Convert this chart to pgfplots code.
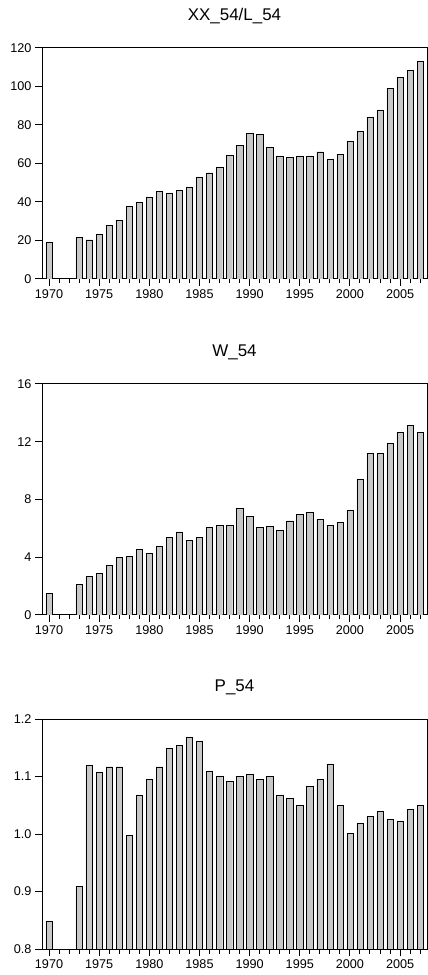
\documentclass[border=0pt]{standalone}
\usepackage{pgfplots}
\pgfplotsset{compat=1.18}
\usepackage{fontspec}
\setmainfont{Liberation Sans}
\definecolor{barfill}{RGB}{200,200,200}
\pgfplotsset{
  /pgf/number format/assume math mode=true,
  panel/.style={
    scale only axis, width=385bp, height=231bp,
    anchor=south west,
    xmin=1969.3, xmax=2007.68,
    ybar, bar width=6.3bp,
    xtick={1970,1975,...,2005},
    minor xtick={1970,...,2007},
    tick align=outside, tick pos=left,
    major tick length=7bp, minor tick length=4.5bp,
    every tick/.style={black, line width=1bp},
    every minor tick/.style={black, line width=1bp},
    axis line style={line width=1bp},
    ticklabel style={font=\fontsize{12.7}{14}\selectfont},
    x tick label style={/pgf/number format/.cd, 1000 sep={}},
    title style={font=\fontsize{17}{19}\selectfont, at={(0.5,1)}, anchor=base, yshift=22bp},
    cycle list={{fill=barfill, draw=black, line width=1bp}},
  }
}
\begin{document}
\begin{tikzpicture}
\useasboundingbox (0,0) rectangle (428bp,975bp);
\begin{axis}[panel, at={(42bp,696bp)}, ymin=0, ymax=120, ytick={0,20,...,120}, title={XX\_54/L\_54}]
\addplot coordinates {
(1970,19.0) (1973,21.8) (1974,20.4) (1975,23.4) (1976,27.7) (1977,30.6) (1978,37.6) (1979,39.7)
(1980,42.6) (1981,45.4) (1982,44.8) (1983,46.2) (1984,47.8) (1985,53.0) (1986,55.2) (1987,58.2)
(1988,64.1) (1989,69.3) (1990,75.7) (1991,75.2) (1992,68.4) (1993,63.9) (1994,63.2) (1995,63.9)
(1996,63.9) (1997,66.1) (1998,62.0) (1999,64.8) (2000,71.5) (2001,76.7) (2002,84.2) (2003,87.8)
(2004,98.9) (2005,104.6) (2006,108.4) (2007,112.9)};
\end{axis}
\begin{axis}[panel, at={(42bp,360bp)}, ymin=0, ymax=16, ytick={0,4,...,16}, title={W\_54}]
\addplot coordinates {
(1970,1.50) (1973,2.10) (1974,2.70) (1975,2.89) (1976,3.46) (1977,3.97) (1978,4.06) (1979,4.57)
(1980,4.27) (1981,4.76) (1982,5.36) (1983,5.75) (1984,5.15) (1985,5.36) (1986,6.05) (1987,6.23)
(1988,6.23) (1989,7.41) (1990,6.83) (1991,6.05) (1992,6.14) (1993,5.84) (1994,6.53) (1995,6.95)
(1996,7.13) (1997,6.63) (1998,6.23) (1999,6.44) (2000,7.23) (2001,9.40) (2002,11.18) (2003,11.18)
(2004,11.87) (2005,12.65) (2006,13.14) (2007,12.65)};
\end{axis}
\begin{axis}[panel, at={(42bp,26bp)}, height=230bp, ymin=0.8, ymax=1.2, ytick={0.8,0.9,1.0,1.1,1.2},
  y tick label style={/pgf/number format/.cd, fixed, fixed zerofill, precision=1}, title={P\_54}]
\addplot coordinates {
(1970,0.849) (1973,0.909) (1974,1.119) (1975,1.107) (1976,1.117) (1977,1.117) (1978,0.998) (1979,1.068)
(1980,1.095) (1981,1.117) (1982,1.149) (1983,1.154) (1984,1.169) (1985,1.162) (1986,1.110) (1987,1.101)
(1988,1.092) (1989,1.100) (1990,1.104) (1991,1.095) (1992,1.100) (1993,1.068) (1994,1.062) (1995,1.050)
(1996,1.083) (1997,1.095) (1998,1.122) (1999,1.050) (2000,1.001) (2001,1.018) (2002,1.031) (2003,1.040)
(2004,1.026) (2005,1.023) (2006,1.043) (2007,1.050)};
\end{axis}
\end{tikzpicture}
\end{document}
